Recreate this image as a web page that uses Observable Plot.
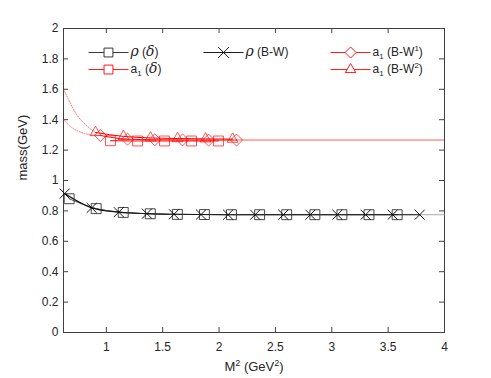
<!DOCTYPE html>
<html>
<head>
<meta charset="utf-8">
<script src="https://cdn.jsdelivr.net/npm/d3@7"></script>
<script src="https://cdn.jsdelivr.net/npm/@observablehq/plot@0.6"></script>
<style>
  html, body { margin: 0; padding: 0; background: #fff; }
  #chart svg { font-family: "Liberation Sans", Arial, Helvetica, sans-serif; }
</style>
</head>
<body>
<div id="chart"></div>
<script>
// ---- tick labels ----
const X_TICKS = [1, 1.5, 2, 2.5, 3, 3.5, 4];
const Y_TICKS = [0, 0.2, 0.4, 0.6, 0.8, 1, 1.2, 1.4, 1.6, 1.8, 2];

// ---- rho (B-W): crosses ----
const rhoBW_x = [0.63, 0.87, 1.11, 1.36, 1.60, 1.84, 2.08, 2.32, 2.57, 2.81, 3.05, 3.30, 3.54, 3.78];
const rhoBW_y = [0.914, 0.820, 0.792, 0.782, 0.778, 0.776, 0.775, 0.775, 0.775, 0.775, 0.775, 0.775, 0.775, 0.775];
// faint dotted continuation of rho (B-W)
const rhoBWext_x = [3.78, 4.0];
const rhoBWext_y = [0.775, 0.775];

// ---- rho (delta): squares ----
const rhoD_x = [0.67, 0.91, 1.15, 1.39, 1.63, 1.87, 2.11, 2.36, 2.60, 2.85, 3.09, 3.33, 3.58];
const rhoD_y = [0.880, 0.815, 0.790, 0.781, 0.777, 0.776, 0.775, 0.775, 0.775, 0.775, 0.775, 0.775, 0.775];

// ---- a1 (delta): squares ----
const a1D_x = [1.037, 1.277, 1.516, 1.756, 1.995];
const a1D_y = [1.262, 1.260, 1.260, 1.260, 1.260];

// ---- a1 (B-W^1): diamonds ----
const a1BW1_x = [0.948, 1.188, 1.430, 1.676, 1.907, 2.155];
const a1BW1_y = [1.296, 1.272, 1.268, 1.267, 1.266, 1.266];

// ---- a1 (B-W^2): triangles ----
const a1BW2_x = [0.904, 1.152, 1.392, 1.632, 1.880, 2.120];
const a1BW2_y = [1.316, 1.290, 1.280, 1.276, 1.274, 1.272];

// ---- a1 dotted extensions ----
const a1Up_x = [0.62, 0.66, 0.70, 0.75, 0.80, 0.85, 0.904];
const a1Up_y = [1.600, 1.540, 1.480, 1.420, 1.380, 1.345, 1.316];
const a1Lo_x = [0.62, 0.66, 0.70, 0.75, 0.80, 0.85, 0.90, 0.948];
const a1Lo_y = [1.400, 1.370, 1.345, 1.325, 1.310, 1.302, 1.298, 1.296];
const a1Right_x = [2.155, 4.0];
const a1Right_y = [1.266, 1.266];

// ---- legend ----
const LEGEND_LABELS = ["ρ (δ)", "ρ (B-W)", "a1 (B-W1)", "a1 (δ)", "a1 (B-W2)"];
const LEGEND_SYMBOLS = ["square", "times", "diamond2", "square", "triangle2"];
const LEGEND_COLORS = ["#222", "#000", "red", "red", "red"];

// ---- layout (pixels / data-space anchors for legend) ----
const W = 491, H = 378;
const M = {top: 28, right: 47, bottom: 46, left: 63};
const PW = W - M.left - M.right, PH = H - M.top - M.bottom;
const LEG_COL_X1 = [0.842, 1.862, 2.989];   // line start
const LEG_COL_X2 = [1.197, 2.217, 3.344];   // line end
const LEG_COL_XM = [1.019, 2.040, 3.167];   // marker
const LEG_COL_XT = [1.214, 2.235, 3.362];   // text start
const LEG_ROW_Y = [1.842, 1.730];
const LEG_POS = [[0,0],[1,0],[2,0],[0,1],[2,1]];

const zip = (xs, ys) => xs.map((x, i) => ({x, y: ys[i]}));
const legend = LEGEND_LABELS.map((label, i) => {
  const [c, r] = LEG_POS[i];
  return {label, symbol: LEGEND_SYMBOLS[i], color: LEGEND_COLORS[i],
    x1: LEG_COL_X1[c], x2: LEG_COL_X2[c], xm: LEG_COL_XM[c], xt: LEG_COL_XT[c], y: LEG_ROW_Y[r]};
});

const axisColor = "#404040";
const fmt = d => String(+d.toFixed(2));

const plot = Plot.plot({
  width: W, height: H,
  marginTop: M.top, marginRight: M.right, marginBottom: M.bottom, marginLeft: M.left,
  style: {fontSize: "12px", color: "#262626", background: "white"},
  x: {domain: [0.62, 4], ticks: X_TICKS},
  y: {domain: [0, 2], ticks: Y_TICKS},
  marks: [
    Plot.frame({stroke: axisColor, strokeWidth: 1}),
    // inward ticks
    Plot.tickY(Y_TICKS, {y: d => d, insetRight: PW - 5, stroke: axisColor}),
    Plot.tickY(Y_TICKS, {y: d => d, insetLeft: PW - 5, stroke: axisColor}),
    Plot.tickX(X_TICKS, {x: d => d, insetTop: PH - 5, stroke: axisColor}),
    Plot.tickX(X_TICKS, {x: d => d, insetBottom: PH - 5, stroke: axisColor}),
    Plot.axisX({ticks: X_TICKS, tickSize: 0, tickPadding: 10, tickFormat: fmt, label: null, fontSize: 12}),
    Plot.axisY({ticks: Y_TICKS, tickSize: 0, tickPadding: 5, tickFormat: fmt, label: null, fontSize: 12}),
    // axis titles
    Plot.text(["mass(GeV)"], {frameAnchor: "left", dx: -41, rotate: -90, fontSize: 13, fill: "#262626"}),
    Plot.text(["M2 (GeV2)"], {frameAnchor: "bottom", dy: 38, fontSize: 13, fill: "#262626"}),

    // red dotted extensions
    Plot.line(zip(a1Up_x, a1Up_y), {x: "x", y: "y", stroke: "red", strokeWidth: 1, strokeOpacity: 0.55, strokeDasharray: "1,1.5", curve: "monotone-x"}),
    Plot.line(zip(a1Lo_x, a1Lo_y), {x: "x", y: "y", stroke: "red", strokeWidth: 1, strokeOpacity: 0.55, strokeDasharray: "1,1.5", curve: "monotone-x"}),
    Plot.line(zip(a1Right_x, a1Right_y), {x: "x", y: "y", stroke: "red", strokeWidth: 1.4, strokeOpacity: 0.45, strokeDasharray: "1,1"}),
    Plot.line(zip(rhoBWext_x, rhoBWext_y), {x: "x", y: "y", stroke: "#888", strokeWidth: 1.2, strokeOpacity: 0.6, strokeDasharray: "1,1"}),

    // solid lines
    Plot.line(zip(a1BW2_x, a1BW2_y), {x: "x", y: "y", stroke: "red", strokeWidth: 1, curve: "monotone-x"}),
    Plot.line(zip(a1BW1_x, a1BW1_y), {x: "x", y: "y", stroke: "red", strokeWidth: 1, curve: "monotone-x"}),
    Plot.line(zip(a1D_x, a1D_y), {x: "x", y: "y", stroke: "red", strokeWidth: 1, curve: "monotone-x"}),
    Plot.line(zip(rhoBW_x, rhoBW_y), {x: "x", y: "y", stroke: "black", strokeWidth: 1.1, curve: "monotone-x"}),
    Plot.line(zip(rhoD_x, rhoD_y), {x: "x", y: "y", stroke: "#222", strokeWidth: 0.8, curve: "monotone-x"}),

    // markers
    Plot.dot(zip(rhoD_x, rhoD_y), {x: "x", y: "y", symbol: "square", r: 5.6, stroke: "#333", strokeWidth: 0.9, fill: "none"}),
    Plot.dot(zip(rhoBW_x, rhoBW_y), {x: "x", y: "y", symbol: "times", r: 4.6, stroke: "#000", strokeWidth: 0.9, fill: "none"}),
    Plot.dot(zip(a1D_x, a1D_y), {x: "x", y: "y", symbol: "square", r: 5.6, stroke: "red", strokeOpacity: 0.75, strokeWidth: 0.9, fill: "none"}),
    Plot.dot(zip(a1BW1_x, a1BW1_y), {x: "x", y: "y", symbol: "diamond2", r: 5.4, stroke: "red", strokeOpacity: 0.75, strokeWidth: 0.9, fill: "none"}),
    Plot.dot(zip(a1BW2_x, a1BW2_y), {x: "x", y: "y", symbol: "triangle2", r: 5.2, stroke: "red", strokeOpacity: 0.75, strokeWidth: 0.9, fill: "none"}),

    // legend
    Plot.link(legend, {x1: "x1", x2: "x2", y1: "y", y2: "y", stroke: "color", strokeWidth: 0.9}),
    Plot.dot(legend, {x: "xm", y: "y", symbol: "symbol", r: 5, stroke: "color", fill: "white", strokeWidth: 0.9}),
    Plot.text(legend, {x: "xt", y: "y", text: "label", textAnchor: "start", fontSize: 12, fill: "#262626"})
  ]
});

// rich text formatting (italics, sub/superscripts) — every segment carries its own baseline shift
const seg = (s, dy = 0, extra = "") => `<tspan dy="${dy}" ${extra}>${s}</tspan>`;
const G = `font-family="DejaVu Serif" font-style="italic" font-size="14"`;
const rich = {
  "ρ (δ)":     seg("ρ", 0, G) + seg(" (") + seg("δ", 0, G) + seg(")"),
  "ρ (B-W)":   seg("ρ", 0, G) + seg(" (B-W)"),
  "a1 (δ)":    seg("a") + seg("1", 3, `font-size="8"`) + seg(" (", -3) + seg("δ", 0, G) + seg(")"),
  "a1 (B-W1)": seg("a") + seg("1", 3, `font-size="8"`) + seg(" (B-W", -3) + seg("1", -5, `font-size="8"`) + seg(")", 5),
  "a1 (B-W2)": seg("a") + seg("1", 3, `font-size="8"`) + seg(" (B-W", -3) + seg("2", -5, `font-size="8"`) + seg(")", 5),
  "M2 (GeV2)": seg("M") + seg("2", -5, `font-size="9"`) + seg(" (GeV", 5) + seg("2", -5, `font-size="9"`) + seg(")", 5)
};
plot.querySelectorAll("text").forEach(t => {
  const k = t.textContent;
  if (rich[k] && t.children.length === 0) t.innerHTML = rich[k];
});
document.getElementById("chart").appendChild(plot);
</script>
</body>
</html>
